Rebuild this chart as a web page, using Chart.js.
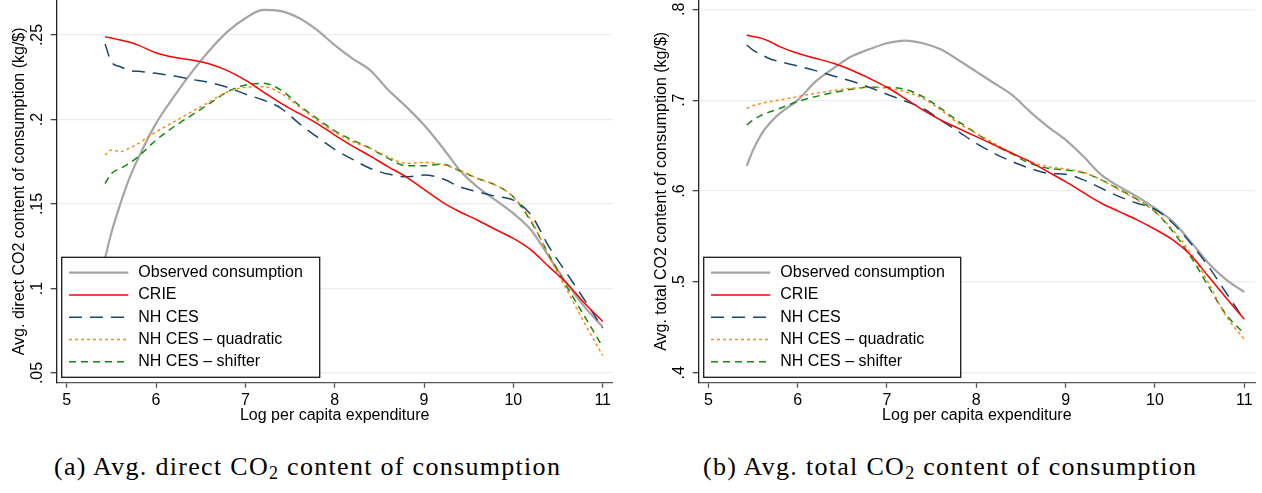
<!DOCTYPE html>
<html>
<head>
<meta charset="utf-8">
<script src="https://cdn.jsdelivr.net/npm/chart.js@4.4.1/dist/chart.umd.min.js"></script>
<style>
  html, body { margin: 0; padding: 0; background: #fff; }
  body { width: 1262px; height: 493px; position: relative; overflow: hidden; }
  canvas { position: absolute; top: 0; }
  #chart-direct { left: 0; }
  #chart-total { left: 642px; }
  .caption {
    position: absolute;
    top: 452px;
    font-family: 'Liberation Serif', 'Times New Roman', serif;
    font-size: 26px;
    letter-spacing: 1.3px;
    color: #000;
    white-space: nowrap;
  }
  .caption sub { font-size: 18px; vertical-align: -4px; line-height: 0; }
  #cap-a { left: 54px; }
  #cap-b { left: 703px; }
</style>
</head>
<body>
<canvas id="chart-direct" width="630" height="440" style="width:630px;height:440px"></canvas>
<canvas id="chart-total" width="620" height="440" style="width:620px;height:440px"></canvas>
<div class="caption" id="cap-a">(a) Avg. direct CO<sub>2</sub> content of consumption</div>
<div class="caption" id="cap-b">(b) Avg. total CO<sub>2</sub> content of consumption</div>

<script>
// Shared x grid (log per capita expenditure)
const xValues = [5.43, 5.5, 5.6, 5.7, 5.8, 6.0, 6.2, 6.4, 6.6, 6.8, 7.0, 7.2, 7.4, 7.6, 7.8, 8.0,
                 8.2, 8.4, 8.6, 8.8, 9.0, 9.2, 9.4, 9.6, 9.8, 10.0, 10.2, 10.4, 10.6, 10.8, 11.0];
const xTicks = [5, 6, 7, 8, 9, 10, 11];

const seriesLabels = ['Observed consumption', 'CRIE', 'NH CES', 'NH CES \u2013 quadratic', 'NH CES \u2013 shifter'];

// Panel (a): direct CO2 content
const directObserved = [0.118, 0.133, 0.150, 0.165, 0.177, 0.1977, 0.2135, 0.228, 0.241, 0.252, 0.2599, 0.2648, 0.2641, 0.260, 0.253, 0.244,
                        0.236, 0.229, 0.2174, 0.2076, 0.1967, 0.1839, 0.170, 0.160, 0.1523, 0.1444, 0.1345, 0.1187, 0.103, 0.089, 0.0773];
const directCrie = [0.249, 0.2482, 0.247, 0.2458, 0.244, 0.2395, 0.2368, 0.2352, 0.2328, 0.2289, 0.2233, 0.2164, 0.2095, 0.2036, 0.1977, 0.1908,
                    0.1843, 0.1783, 0.172, 0.1661, 0.1586, 0.1513, 0.1454, 0.1404, 0.1349, 0.1296, 0.1227, 0.1128, 0.103, 0.0911, 0.0805];
const directNhCes = [0.2447, 0.234, 0.2312, 0.229, 0.2285, 0.2273, 0.2257, 0.2237, 0.2218, 0.219, 0.215, 0.2115, 0.2066, 0.1977, 0.1898, 0.1823,
                     0.1764, 0.171, 0.1677, 0.1661, 0.1671, 0.1651, 0.1602, 0.1572, 0.1546, 0.1523, 0.1434, 0.1246, 0.1088, 0.093, 0.0765];
const directQuadratic = [0.1789, 0.182, 0.181, 0.183, 0.1858, 0.1927, 0.1986, 0.2046, 0.2105, 0.2164, 0.219, 0.2194, 0.2155, 0.2076, 0.1997, 0.1927,
                         0.1868, 0.1829, 0.1779, 0.174, 0.1746, 0.1734, 0.170, 0.1651, 0.1612, 0.1542, 0.1404, 0.1187, 0.099, 0.0792, 0.0603];
const directShifter = [0.1621, 0.168, 0.171, 0.174, 0.178, 0.1878, 0.1957, 0.2026, 0.2095, 0.2164, 0.2204, 0.2214, 0.2174, 0.2085, 0.2006, 0.1933,
                       0.1878, 0.1829, 0.177, 0.1726, 0.1726, 0.1736, 0.1696, 0.1651, 0.1612, 0.1542, 0.1394, 0.1197, 0.101, 0.0832, 0.0655];
const directTicks = [0.05, 0.1, 0.15, 0.2, 0.25];

// Panel (b): total CO2 content
const totalObserved = [0.6276, 0.645, 0.6635, 0.676, 0.6855, 0.700, 0.7204, 0.735, 0.748, 0.756, 0.7626, 0.7655, 0.7626, 0.756, 0.7442, 0.7314,
                       0.7186, 0.7057, 0.6874, 0.6709, 0.6562, 0.6379, 0.6177, 0.6048, 0.5938, 0.581, 0.5663, 0.5443, 0.5205, 0.5021, 0.4888];
const totalCrie = [0.7718, 0.770, 0.768, 0.764, 0.7589, 0.7516, 0.7461, 0.7406, 0.7332, 0.7241, 0.7142, 0.702, 0.6892, 0.6782, 0.669, 0.6599,
                   0.6507, 0.6415, 0.6324, 0.6213, 0.6103, 0.5982, 0.5865, 0.5773, 0.5682, 0.5579, 0.5462, 0.5296, 0.5058, 0.482, 0.4588];
const totalNhCes = [0.7607, 0.755, 0.7497, 0.745, 0.7424, 0.7376, 0.7325, 0.7266, 0.7211, 0.7142, 0.7065, 0.6991, 0.6911, 0.6782, 0.6654, 0.6525,
                    0.6415, 0.6324, 0.625, 0.6195, 0.6184, 0.6122, 0.603, 0.5938, 0.5865, 0.5799, 0.5645, 0.5425, 0.5168, 0.4875, 0.458];
const totalQuadratic = [0.691, 0.694, 0.6966, 0.6985, 0.7002, 0.7039, 0.7076, 0.7105, 0.713, 0.7142, 0.713, 0.7094, 0.702, 0.6892, 0.6745, 0.6635,
                        0.6525, 0.6415, 0.6324, 0.6269, 0.6243, 0.6206, 0.6122, 0.6012, 0.5902, 0.5773, 0.5572, 0.5315, 0.4985, 0.4618, 0.4368];
const totalShifter = [0.6727, 0.678, 0.6837, 0.6875, 0.691, 0.6984, 0.7039, 0.7083, 0.712, 0.7142, 0.7142, 0.712, 0.7039, 0.691, 0.6764, 0.6635,
                      0.6507, 0.6408, 0.6305, 0.625, 0.6232, 0.6202, 0.6122, 0.6019, 0.5909, 0.5773, 0.5553, 0.5278, 0.4948, 0.4636, 0.443];
const totalTicks = [0.4, 0.5, 0.6, 0.7, 0.8];

// Line styles, in legend order
const lineStyles = [
    { color: '#a5a5a5', width: 2.2, dash: [] },
    { color: '#ff0000', width: 1.5, dash: [] },
    { color: '#1a476f', width: 1.5, dash: [13, 8] },
    { color: '#ff8c1a', width: 1.5, dash: [3, 3] },
    { color: '#118a11', width: 1.5, dash: [7, 5] },
];

Chart.defaults.font.family = "'Liberation Sans', Arial, sans-serif";
Chart.defaults.color = '#000';

const FONT = "16px 'Liberation Sans', Arial, sans-serif";

// Stata style tick label: ".25" instead of "0.25"
function stataLabel(v) {
    return String(+v.toFixed(4)).replace(/^0\./, '.');
}

// Legend box drawn over the lines, bottom-left of the plot
const boxLegend = {
    id: 'boxLegend',
    afterDatasetsDraw(chart, args, opts) {
        const ctx = chart.ctx;
        const area = chart.chartArea;
        const left = area.left + 5;
        const bottom = area.bottom - 5.4;
        const w = opts.width;
        const h = 120;
        const top = bottom - h;

        ctx.save();
        ctx.fillStyle = '#fff';
        ctx.fillRect(left, top, w, h);
        ctx.strokeStyle = '#1a1a1a';
        ctx.lineWidth = 1.3;
        ctx.setLineDash([]);
        ctx.strokeRect(left, top, w, h);

        chart.data.datasets.forEach((ds, i) => {
            const y = top + 15.4 + i * 22.25;
            ctx.beginPath();
            ctx.setLineDash(ds.borderDash || []);
            ctx.strokeStyle = ds.borderColor;
            ctx.lineWidth = ds.borderWidth;
            ctx.moveTo(left + 7.3, y);
            ctx.lineTo(left + 66.6, y);
            ctx.stroke();

            ctx.setLineDash([]);
            ctx.fillStyle = '#000';
            ctx.font = FONT;
            ctx.textAlign = 'left';
            ctx.textBaseline = 'middle';
            ctx.fillText(ds.label, left + 76.6, y);
        });
        ctx.restore();
    }
};

// Vertical (rotated) y tick labels, as Stata draws them
const rotatedYLabels = {
    id: 'rotatedYLabels',
    afterDraw(chart, args, opts) {
        const ctx = chart.ctx;
        const yScale = chart.scales.y;
        ctx.save();
        ctx.fillStyle = '#000';
        ctx.font = FONT;
        ctx.textAlign = 'center';
        ctx.textBaseline = 'middle';
        yScale.ticks.forEach(t => {
            const py = yScale.getPixelForValue(t.value);
            ctx.save();
            ctx.translate(opts.x, py);
            ctx.rotate(-Math.PI / 2);
            ctx.fillText(stataLabel(t.value), 0, 0);
            ctx.restore();
        });
        ctx.restore();
    }
};

function makeChart(canvasId, cfg) {
    const ctx = document.getElementById(canvasId).getContext('2d');
    const datasets = cfg.series.map((values, i) => ({
        label: seriesLabels[i],
        data: values.map((v, j) => ({ x: xValues[j], y: v })),
        borderColor: lineStyles[i].color,
        borderWidth: lineStyles[i].width,
        borderDash: lineStyles[i].dash,
        pointRadius: 0,
        fill: false,
        tension: 0.4,
        cubicInterpolationMode: 'monotone',
    }));
    // Observed curve drawn underneath the model curves
    datasets[0].order = 5;

    return new Chart(ctx, {
        type: 'line',
        data: { datasets },
        plugins: [boxLegend, rotatedYLabels],
        options: {
            responsive: false,
            animation: false,
            layout: { padding: { top: 0, left: 0, bottom: 0, right: cfg.padRight } },
            plugins: {
                legend: { display: false },
                tooltip: { enabled: false },
                boxLegend: { width: cfg.legendWidth },
                rotatedYLabels: { x: 37.5 },
            },
            scales: {
                x: {
                    type: 'linear',
                    min: cfg.xMin,
                    max: cfg.xMax,
                    afterBuildTicks: s => { s.ticks = xTicks.map(v => ({ value: v })); },
                    afterFit: s => { s.height = 57.3; },
                    border: { display: true, color: '#555', width: 1.3 },
                    grid: { drawOnChartArea: false, drawTicks: true, tickLength: 5, tickColor: '#555', tickWidth: 1.3 },
                    ticks: { font: { size: 16 }, color: '#000', padding: 3, maxRotation: 0 },
                    title: { display: true, text: 'Log per capita expenditure', font: { size: 16 }, color: '#000',
                             padding: { top: 14.4, bottom: 14.4 } },
                },
                y: {
                    type: 'linear',
                    min: cfg.yMin,
                    max: cfg.yMax,
                    afterBuildTicks: s => { s.ticks = cfg.yTicks.map(v => ({ value: v })); },
                    afterFit: s => { s.width = 56.7; },
                    border: { display: true, color: '#222', width: 1.3 },
                    grid: { color: '#e8eff1', lineWidth: 1.3, drawTicks: true, tickLength: 6, tickColor: '#444', tickWidth: 1.3 },
                    ticks: { display: false },
                    title: { display: true, text: cfg.yTitle, font: { size: 16 }, color: '#000',
                             padding: { top: 10, bottom: 0 } },
                },
            },
        },
    });
}

makeChart('chart-direct', {
    series: [directObserved, directCrie, directNhCes, directQuadratic, directShifter],
    yTicks: directTicks,
    yMin: 0.04426, yMax: 0.2707,
    xMin: 4.888, xMax: 11.112,
    padRight: 17.3,
    legendWidth: 258,
    yTitle: 'Avg. direct CO2 content of consumption (kg/$)',
});

makeChart('chart-total', {
    series: [totalObserved, totalCrie, totalNhCes, totalQuadratic, totalShifter],
    yTicks: totalTicks,
    yMin: 0.389, yMax: 0.81024,
    xMin: 4.892, xMax: 11.12,
    padRight: 7,
    legendWidth: 257,
    yTitle: 'Avg. total CO2 content of consumption (kg/$)',
});
</script>
</body>
</html>
